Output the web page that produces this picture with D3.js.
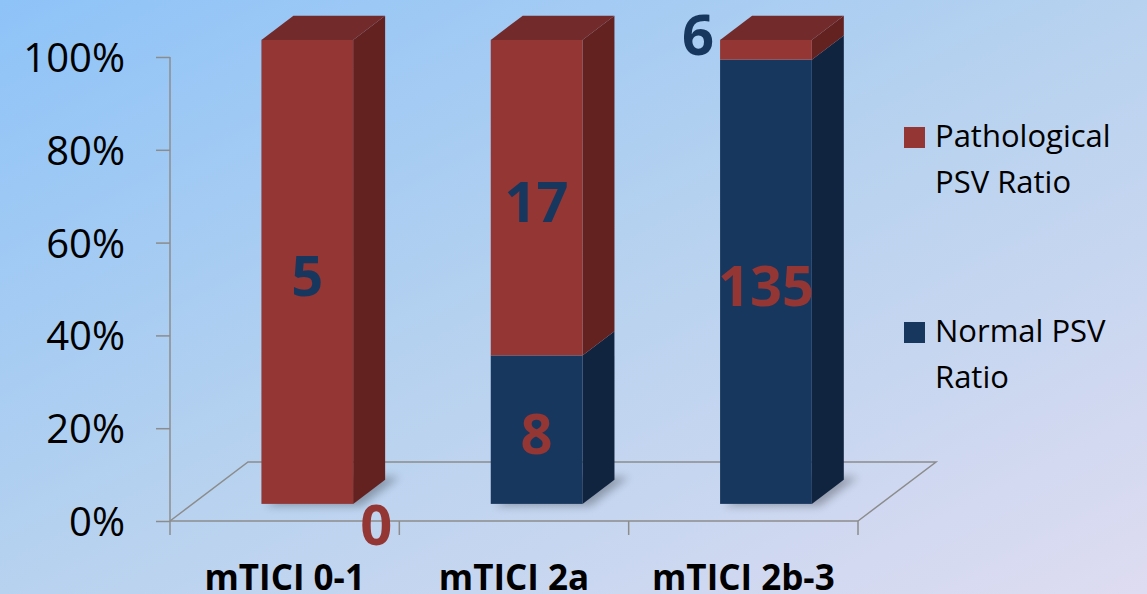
<!DOCTYPE html>
<html>
<head>
<meta charset="utf-8">
<script src="https://cdn.jsdelivr.net/npm/d3@7"></script>
<style>
  html, body { margin: 0; padding: 0; }
  body { width: 1147px; height: 594px; overflow: hidden; }
  svg { display: block; font-family: "Open Sans", sans-serif; }
</style>
</head>
<body>
<div id="chart"></div>
<script>
// data
const categories = ["mTICI 0-1", "mTICI 2a", "mTICI 2b-3"];
const normalCounts = [0, 8, 135];
const pathologicalCounts = [5, 17, 6];
const yTicks = [0, 0.2, 0.4, 0.6, 0.8, 1];
const seriesNames = ["Pathological PSV Ratio", "Normal PSV Ratio"];

const width = 1147;
const height = 594;

const colors = {
  normal: { front: "#17375e", side: "#10243f", top: "#1f4a7a", text: "#17375e" },
  patho: { front: "#943634", side: "#632120", top: "#722b2a", text: "#943634" },
  axis: "#8c8c8c",
};

// fake 3d: depth offset of the floor
const DX = 78;
const DY = 59;
const zFront = 0.29;
const zBack = 0.70;

const x = d3.scaleBand().domain(categories).range([170, 858]);
const y = d3.scaleLinear().domain([0, 1]).range([521, 57]);
const proj = (px, py, z) => [px + z * DX, py - z * DY];

const svg = d3.select("#chart").append("svg")
  .attr("width", width)
  .attr("height", height);

const defs = svg.append("defs");
const grad = defs.append("linearGradient")
  .attr("id", "bg")
  .attr("x1", "0%").attr("y1", "0%")
  .attr("x2", "100%").attr("y2", "100%");
grad.append("stop").attr("offset", "0%").attr("stop-color", "#8ec3f8");
grad.append("stop").attr("offset", "50%").attr("stop-color", "#b7d2ef");
grad.append("stop").attr("offset", "100%").attr("stop-color", "#dedcf1");

defs.append("filter").attr("id", "blur")
  .attr("x", "-30%").attr("y", "-30%").attr("width", "160%").attr("height", "160%")
  .append("feGaussianBlur").attr("stdDeviation", 4);

svg.append("rect").attr("width", width).attr("height", height).attr("fill", "url(#bg)");

// floor
const floor = svg.append("g")
  .attr("fill", "none")
  .attr("stroke", colors.axis)
  .attr("stroke-width", 1.5);
const [x0, x1] = x.range();
floor.append("path").attr("d", d3.line()([
  proj(x0, y(0), 0), proj(x0, y(0), 1), proj(x1, y(0), 1), proj(x1, y(0), 0),
]));
floor.append("line")
  .attr("x1", x0).attr("x2", x1)
  .attr("y1", y(0)).attr("y2", y(0));

// category ticks along the front edge
floor.selectAll(".ctick")
  .data([...categories.map((c) => x(c)), x1])
  .join("line")
  .attr("x1", (d) => d).attr("x2", (d) => d)
  .attr("y1", y(0)).attr("y2", y(0) + 14);

// value axis
const gY = svg.append("g")
  .attr("transform", `translate(${x0},0)`)
  .call(d3.axisLeft(y).tickValues(yTicks).tickFormat(d3.format(".0%")).tickSize(14).tickPadding(31))
  .call((g) => g.select(".domain").attr("stroke", colors.axis).attr("stroke-width", 1.5)
    .attr("d", `M0,${y(1)}V${y(0)}`))
  .call((g) => g.selectAll(".tick line").attr("stroke", colors.axis).attr("stroke-width", 1.5))
  .call((g) => g.selectAll(".tick text")
    .attr("fill", "#000")
    .attr("font-size", 40)
    .attr("font-family", "'Open Sans', sans-serif")
    .attr("dy", "0.36em"));

// category labels
svg.append("g").selectAll("text")
  .data(categories)
  .join("text")
  .attr("x", (d) => x(d) + x.bandwidth() / 2)
  .attr("y", 590)
  .attr("text-anchor", "middle")
  .attr("font-size", 35)
  .attr("font-weight", 700)
  .attr("fill", "#000")
  .text((d) => d);

// stacked shares
const rows = categories.map((c, i) => {
  const total = normalCounts[i] + pathologicalCounts[i];
  return { category: c, normal: normalCounts[i] / total, patho: pathologicalCounts[i] / total };
});
const stacked = d3.stack().keys(["normal", "patho"])(rows);

const barW = x.bandwidth() * 0.4;
const barLeft = (c) => x(c) + (x.bandwidth() - barW) / 2;

const gBars = svg.append("g");

// soft shadows on the floor
gBars.selectAll(".shadow")
  .data(categories)
  .join("path")
  .attr("class", "shadow")
  .attr("fill", "#000")
  .attr("opacity", 0.28)
  .attr("filter", "url(#blur)")
  .attr("d", (c) => {
    const l = barLeft(c) + 4;
    const r = barLeft(c) + barW + 8;
    return d3.line()([
      proj(l, y(0) + 2, zFront), proj(r, y(0) + 2, zFront),
      proj(r, y(0) + 2, zBack + 0.08), proj(l, y(0) + 2, zBack + 0.08),
    ]) + "Z";
  });

const segments = [];
stacked.forEach((layer) => {
  layer.forEach((d, i) => {
    segments.push({ key: layer.key, category: categories[i], y0: d[0], y1: d[1],
      count: layer.key === "normal" ? normalCounts[i] : pathologicalCounts[i],
      topmost: d[1] >= 1 - 1e-9 && d[1] > d[0] });
  });
});

segments.filter((s) => s.y1 > s.y0).forEach((s) => {
  const col = colors[s.key];
  const l = barLeft(s.category);
  const r = l + barW;
  const g = gBars.append("g");
  // right side
  g.append("path").attr("fill", col.side).attr("d", d3.line()([
    proj(r, y(s.y0), zFront), proj(r, y(s.y0), zBack),
    proj(r, y(s.y1), zBack), proj(r, y(s.y1), zFront),
  ]) + "Z");
  // front face
  const [fx0, fy0] = proj(l, y(s.y1), zFront);
  const [fx1, fy1] = proj(r, y(s.y0), zFront);
  g.append("rect")
    .attr("x", fx0).attr("y", fy0)
    .attr("width", fx1 - fx0).attr("height", fy1 - fy0)
    .attr("fill", col.front);
  if (s.topmost) {
    g.append("path").attr("fill", col.top).attr("d", d3.line()([
      proj(l, y(1), zFront), proj(l, y(1), zBack),
      proj(r, y(1), zBack), proj(r, y(1), zFront),
    ]) + "Z");
  }
});

// value labels, colour swapped against the segment
svg.append("g").selectAll("text")
  .data(segments)
  .join("text")
  .attr("text-anchor", "middle")
  .attr("dy", "0.36em")
  .attr("font-size", 56)
  .attr("font-weight", 700)
  .attr("fill", (s) => s.key === "normal" ? colors.patho.text : colors.normal.text)
  .attr("x", (s) => {
    const l = barLeft(s.category);
    const fx = proj(l, 0, zFront)[0];
    if (s.y1 - s.y0 === 0) return fx + barW + 23;
    if (s.y1 - s.y0 < 0.1) return fx - 22;
    return fx + barW / 2;
  })
  .attr("y", (s) => {
    const fy = (yy) => proj(0, y(yy), zFront)[1];
    const mid = (fy(s.y0) + fy(s.y1)) / 2;
    if (s.y1 - s.y0 === 0) return mid + 21;
    if (s.y1 - s.y0 < 0.1) return mid - 15;
    return mid + 4;
  })
  .text((s) => s.count);

// legend
const legend = svg.append("g").attr("transform", "translate(904,0)");
const legendItems = [
  { lines: ["Pathological", "PSV Ratio"], color: colors.patho.front, top: 127 },
  { lines: ["Normal PSV", "Ratio"], color: colors.normal.front, top: 322 },
];
const li = legend.selectAll("g")
  .data(legendItems)
  .join("g")
  .attr("transform", (d) => `translate(0,${d.top})`);
li.append("rect").attr("width", 21).attr("height", 21).attr("fill", (d) => d.color);
li.append("text")
  .attr("font-size", 31)
  .attr("fill", "#000")
  .selectAll("tspan")
  .data((d) => d.lines)
  .join("tspan")
  .attr("x", 31)
  .attr("y", (d, i) => 20 + i * 46)
  .text((d) => d);
</script>
</body>
</html>
